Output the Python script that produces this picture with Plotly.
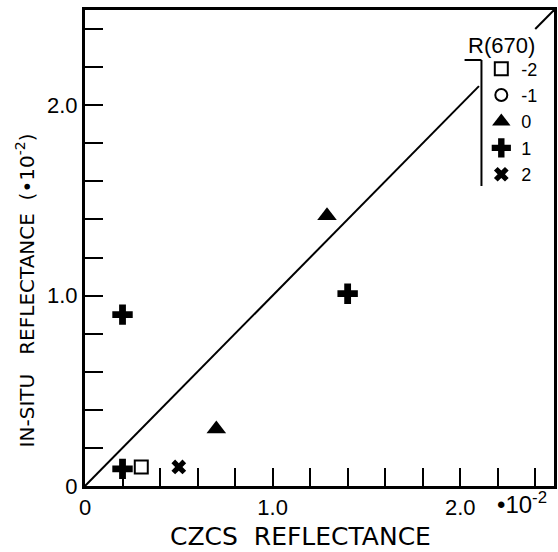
import plotly.graph_objects as go

# Data (units of 1e-2)
sq_x, sq_y = [0.30], [0.10]          # R(670) = -2
ci_x, ci_y = [None], [None]          # R(670) = -1 (no points plotted)
tri_x, tri_y = [0.70, 1.29], [0.30, 1.42]   # R(670) = 0
plus_x, plus_y = [0.20, 0.20, 1.40], [0.09, 0.90, 1.01]  # R(670) = 1
xx_x, xx_y = [0.50], [0.10]          # R(670) = 2
line1_x, line1_y = [0, 2.1], [0, 2.1]
line2_x, line2_y = [2.4, 2.5], [2.4, 2.5]

tickvals = [round(0.2 * i, 1) for i in range(13)]
ticktext = ["0" if v == 0 else ("1.0" if v == 1.0 else ("2.0" if v == 2.0 else "")) for v in tickvals]

FONT = "Liberation Sans, Arial, sans-serif"
WIDE = "DejaVu Sans, sans-serif"
fig = go.Figure()
fig.add_trace(go.Scatter(x=line1_x, y=line1_y, mode="lines", line=dict(color="black", width=2), showlegend=False))
fig.add_trace(go.Scatter(x=line2_x, y=line2_y, mode="lines", line=dict(color="black", width=2), showlegend=False))
fig.add_trace(go.Scatter(x=sq_x, y=sq_y, mode="markers", name="-2",
                         marker=dict(symbol="square-open", size=13, color="black", line=dict(width=2, color="black"))))
fig.add_trace(go.Scatter(x=ci_x, y=ci_y, mode="markers", name="-1",
                         marker=dict(symbol="circle-open", size=12, color="black", line=dict(width=2, color="black"))))
fig.add_trace(go.Scatter(x=tri_x, y=tri_y, mode="markers", name="0",
                         marker=dict(symbol="triangle-up", size=17, color="black")))
fig.add_trace(go.Scatter(x=plus_x, y=plus_y, mode="markers", name="1",
                         marker=dict(symbol="cross", size=17, color="black")))
fig.add_trace(go.Scatter(x=xx_x, y=xx_y, mode="markers", name="2",
                         marker=dict(symbol="x", size=13, color="black")))

axis_common = dict(
    tickmode="array", tickvals=tickvals, ticktext=ticktext,
    ticks="inside", ticklen=18, tickwidth=2, tickcolor="black",
    showline=True, linewidth=3, linecolor="black", mirror=True,
    showgrid=False, zeroline=False, range=[0, 2.5],
    tickfont=dict(family=FONT, size=22, color="black"),
)
fig.update_xaxes(**axis_common)
fig.update_yaxes(**axis_common)

fig.update_layout(
    width=558, height=552,
    margin=dict(l=85, r=1, t=10, b=66),
    paper_bgcolor="white", plot_bgcolor="white",
    font=dict(family=FONT, size=20, color="black"),
    showlegend=True,
    legend=dict(x=0.845, y=0.915, xanchor="left", yanchor="top",
                bgcolor="rgba(0,0,0,0)", borderwidth=0, tracegroupgap=0,
                font=dict(family=FONT, size=18, color="black")),
    annotations=[
        dict(text="CZCS  REFLECTANCE", xref="paper", yref="paper", x=(302 - 85) / 472, y=(486 - 536) / 476,
             xanchor="center", yanchor="middle", showarrow=False, font=dict(family=WIDE, size=25)),
        dict(text="IN-SITU   REFLECTANCE  (•10<sup>-2</sup>)", xref="paper", yref="paper",
             x=(25 - 85) / 472, y=(486 - 290) / 476, textangle=-90,
             xanchor="center", yanchor="middle", showarrow=False, font=dict(family=WIDE, size=20)),
        dict(text="•10<sup>-2</sup>", xref="paper", yref="paper", x=(525 - 85) / 472, y=-0.035,
             xanchor="center", yanchor="middle", showarrow=False, font=dict(size=24)),
        dict(text="R(670)", xref="paper", yref="paper", x=(468 - 85) / 472, y=(486 - 46) / 476,
             xanchor="left", yanchor="middle", showarrow=False, font=dict(size=22)),
    ],
    shapes=[
        dict(type="line", xref="paper", yref="paper", x0=(467 - 85) / 472, x1=(484 - 85) / 472,
             y0=(486 - 60) / 476, y1=(486 - 60) / 476, line=dict(color="black", width=2)),
        dict(type="line", xref="paper", yref="paper", x0=(484 - 85) / 472, x1=(484 - 85) / 472,
             y0=(486 - 60) / 476, y1=(486 - 186) / 476, line=dict(color="black", width=2)),
    ],
)

fig.write_html("out.html")
